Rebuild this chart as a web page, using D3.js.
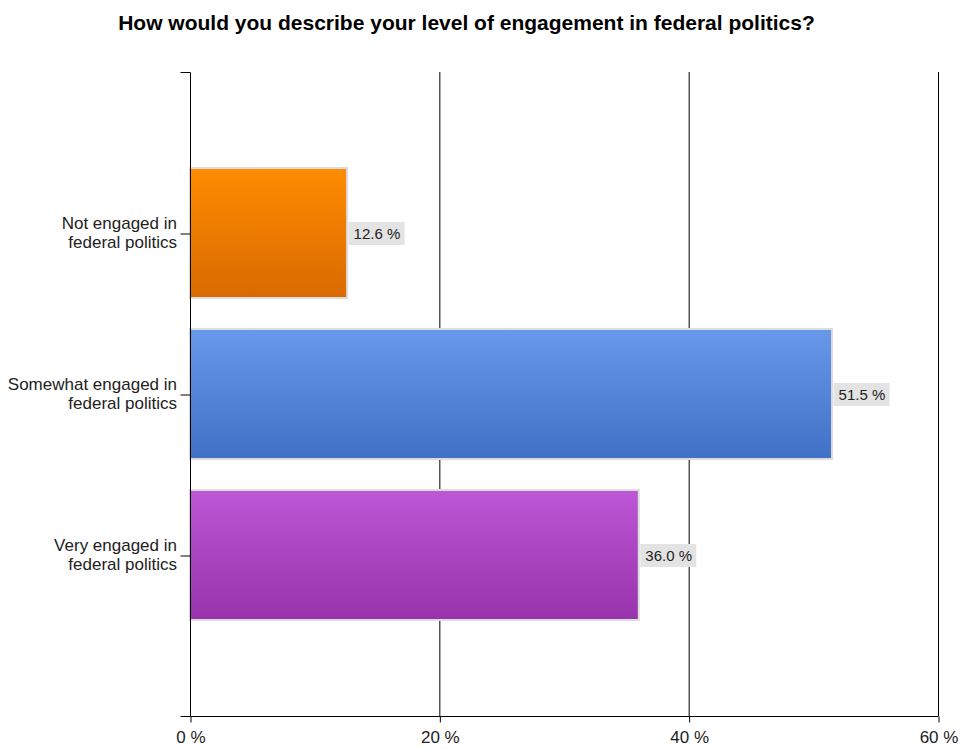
<!DOCTYPE html>
<html>
<head>
<meta charset="utf-8">
<script src="https://cdn.jsdelivr.net/npm/d3@7/dist/d3.min.js"></script>
<style>
  html, body { margin: 0; padding: 0; background: #fff; }
  svg { display: block; font-family: "Liberation Sans", Arial, sans-serif; }
</style>
</head>
<body>
<svg id="chart" width="960" height="749"></svg>
<script>
// Survey responses
const categories = [
  ["Not engaged in", "federal politics"],
  ["Somewhat engaged in", "federal politics"],
  ["Very engaged in", "federal politics"]
];
const values = [12.6, 51.5, 36.0];
const valueLabels = ["12.6 %", "51.5 %", "36.0 %"];
const tickValues = [0, 20, 40, 60];
const tickLabels = ["0 %", "20 %", "40 %", "60 %"];
const barColors = [
  ["#ff8c00", "#d86a00"],
  ["#6798ea", "#4171c6"],
  ["#bd57d6", "#9733ab"]
];

const svg = d3.select("#chart");
const plotLeft = 190, plotRight = 938, plotTop = 72, plotBottom = 716;
const keys = categories.map((c, i) => "c" + i);

const x = d3.scaleLinear().domain([0, 60]).range([plotLeft, plotRight]);
const y = d3.scalePoint().domain(keys).range([plotTop, plotBottom]).padding(1);
const barH = 130;

// gradients
const defs = svg.append("defs");
barColors.forEach((c, i) => {
  const g = defs.append("linearGradient").attr("id", "g" + i)
    .attr("x1", 0).attr("y1", 0).attr("x2", 0).attr("y2", 1);
  g.append("stop").attr("offset", "0%").attr("stop-color", c[0]);
  g.append("stop").attr("offset", "100%").attr("stop-color", c[1]);
});

// title
svg.append("text")
  .attr("x", 466.5).attr("y", 30)
  .attr("text-anchor", "middle")
  .attr("font-size", 21).attr("font-weight", "bold")
  .attr("fill", "#000")
  .text("How would you describe your level of engagement in federal politics?");

// vertical gridlines
svg.append("g").selectAll("line")
  .data(tickValues.slice(1))
  .join("line")
  .attr("x1", d => x(d) + 0.5).attr("x2", d => x(d) + 0.5)
  .attr("y1", plotTop).attr("y2", plotBottom)
  .attr("stroke", "#000").attr("stroke-width", 1);

// bars
svg.append("g").selectAll("rect")
  .data(values)
  .join("rect")
  .attr("x", x(0))
  .attr("y", (d, i) => y(keys[i]) - barH / 2)
  .attr("width", d => x(d) - x(0))
  .attr("height", barH)
  .attr("fill", (d, i) => `url(#g${i})`)
  .attr("stroke", "#dcdcdc").attr("stroke-width", 2);

// value labels
const lab = svg.append("g").selectAll("g")
  .data(values)
  .join("g")
  .attr("transform", (d, i) => `translate(${x(d) + 1.5},${y(keys[i])})`);
lab.append("rect")
  .attr("x", 0).attr("y", -11).attr("width", 56).attr("height", 23)
  .attr("fill", "#e3e3e3");
lab.append("text")
  .attr("x", 5).attr("y", 6)
  .attr("font-size", 15).attr("fill", "#222")
  .text((d, i) => valueLabels[i]);

// x axis
const xAxis = d3.axisBottom(x)
  .tickValues(tickValues)
  .tickFormat((d, i) => tickLabels[i])
  .tickSize(6).tickSizeOuter(0);
const gx = svg.append("g").attr("transform", `translate(0.5,${plotBottom + 0.5})`).call(xAxis);
gx.select(".domain").remove();
gx.append("line").attr("x1", plotLeft - 10).attr("x2", plotRight).attr("stroke", "#000");
gx.selectAll(".tick line").attr("stroke", "#000");
gx.selectAll(".tick text").attr("font-size", 17).attr("fill", "#222")
  .attr("y", 26).attr("dy", 0);

// y axis
const yAxis = d3.axisLeft(y).tickSize(10).tickSizeOuter(0).tickFormat("");
const gy = svg.append("g").attr("transform", `translate(${plotLeft + 0.5},0.5)`).call(yAxis);
gy.select(".domain").remove();
gy.append("line").attr("y1", plotTop).attr("y2", plotBottom).attr("stroke", "#000");
gy.append("line").attr("x1", -10).attr("x2", 0).attr("y1", plotTop).attr("y2", plotTop).attr("stroke", "#000");
gy.selectAll(".tick line").attr("stroke", "#000");

// category labels
const cl = svg.append("g").selectAll("text")
  .data(categories)
  .join("text")
  .attr("text-anchor", "end")
  .attr("font-size", 17).attr("fill", "#222")
  .attr("y", (d, i) => y(keys[i]));
cl.selectAll("tspan")
  .data(d => d)
  .join("tspan")
  .attr("x", 177)
  .attr("dy", (d, j) => j === 0 ? -4 : 19)
  .text(d => d);
</script>
</body>
</html>
